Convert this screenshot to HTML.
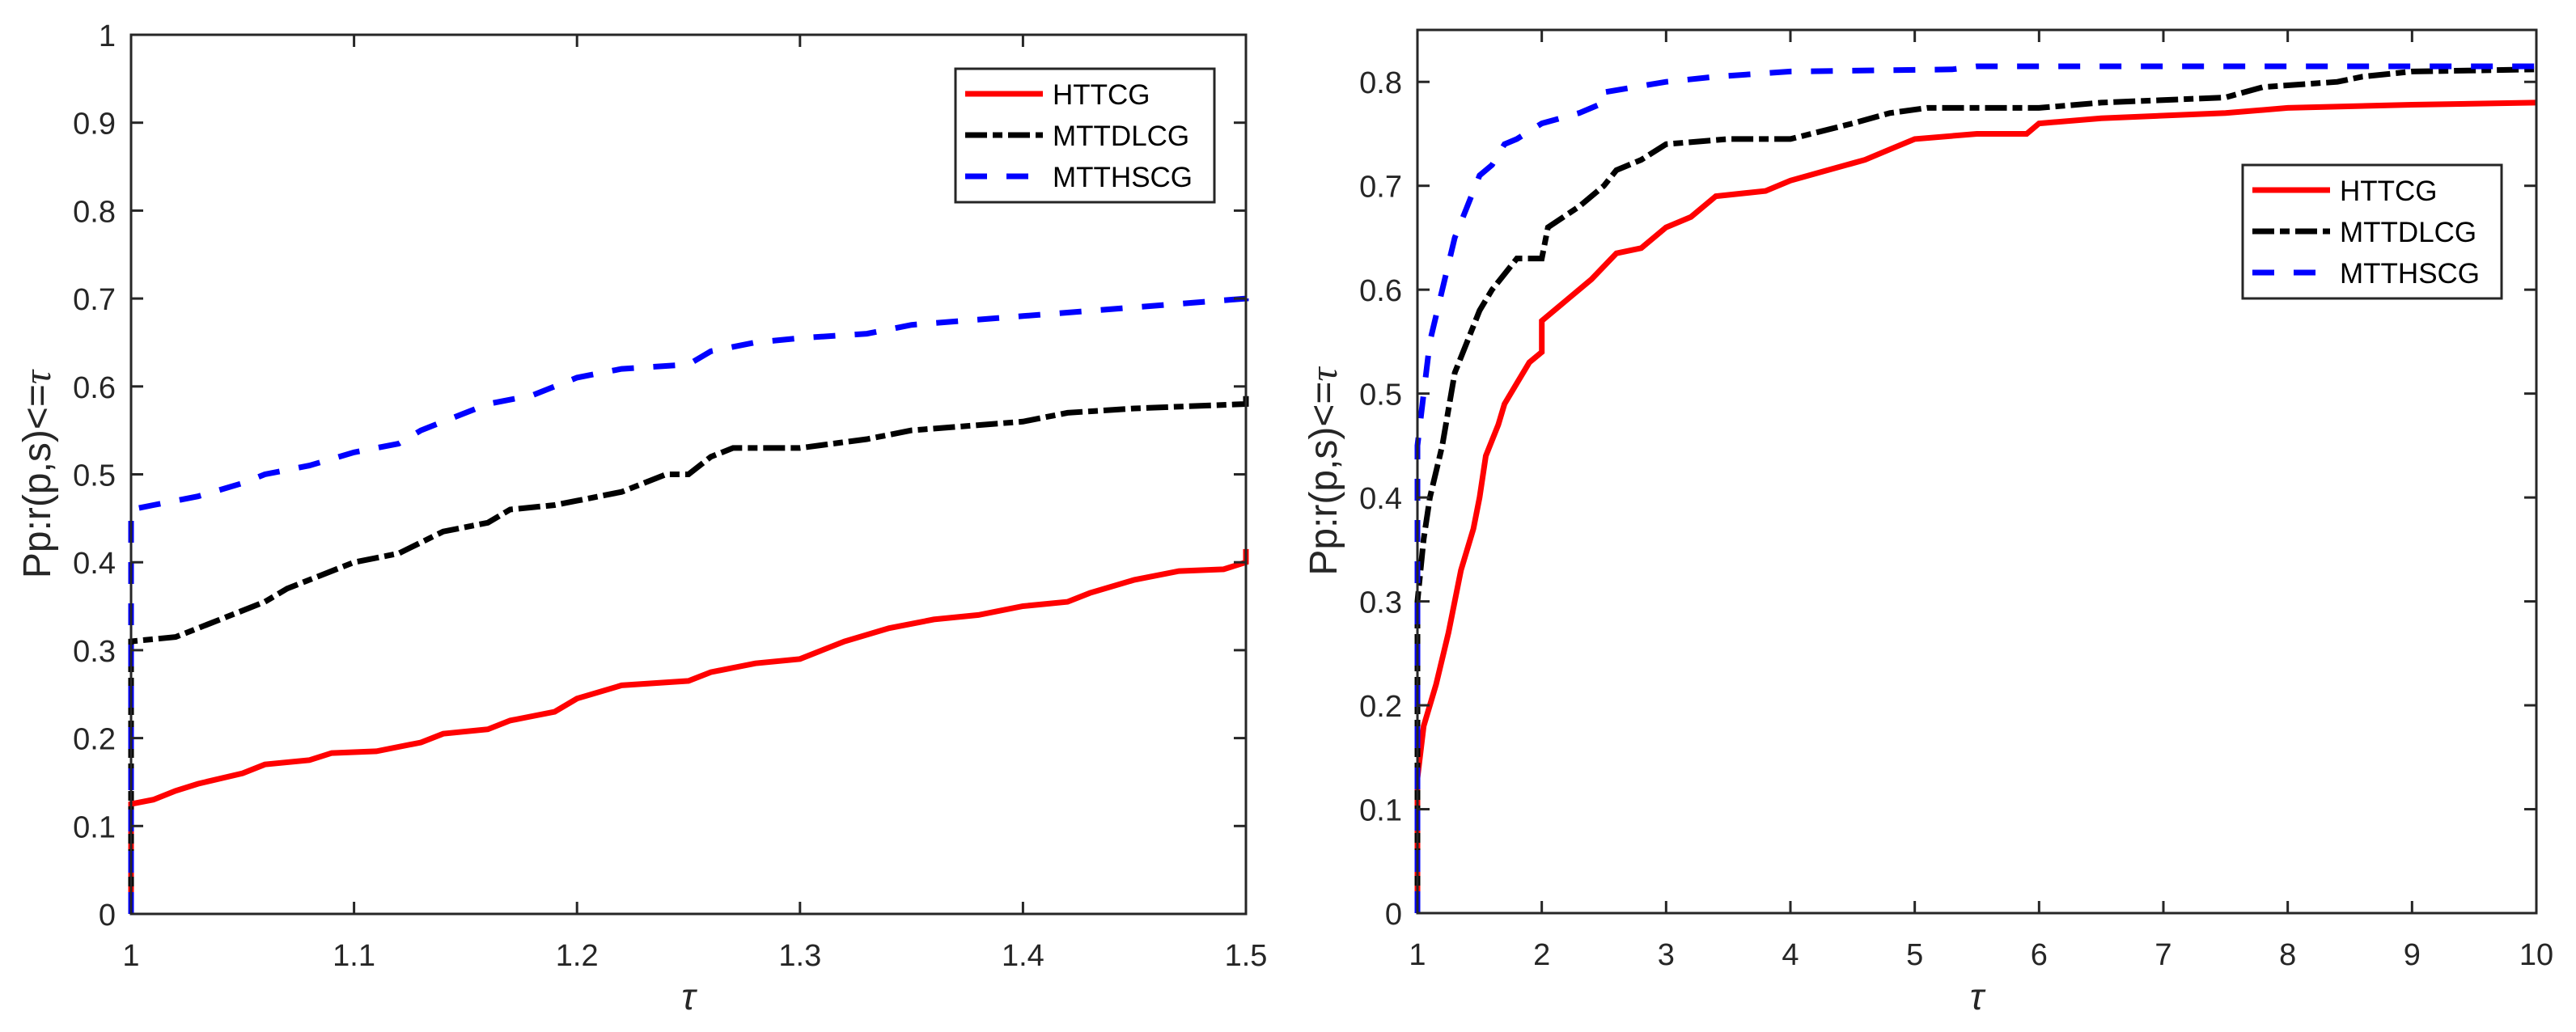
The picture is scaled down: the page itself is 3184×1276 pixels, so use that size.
<!DOCTYPE html>
<html><head><meta charset="utf-8"><style>
html,body{margin:0;padding:0;background:#fff;}
svg{display:block;}
text{font-family:"Liberation Sans",Arial,sans-serif;fill:#262626;}
</style></head><body>
<svg id="fig" width="3184" height="1276" viewBox="0 0 3184 1276" xmlns="http://www.w3.org/2000/svg"></svg>
<script>
// ---- data: left panel ----
const leftRedX=[1,1,1.01,1.02,1.03,1.05,1.06,1.08,1.09,1.11,1.13,1.14,1.16,1.17,1.19,1.2,1.22,1.25,1.26,1.28,1.3,1.32,1.34,1.36,1.38,1.4,1.42,1.43,1.45,1.47,1.49,1.5,1.5];
const leftRedY=[0,0.125,0.13,0.14,0.148,0.16,0.17,0.175,0.183,0.185,0.195,0.205,0.21,0.22,0.23,0.245,0.26,0.265,0.275,0.285,0.29,0.31,0.325,0.335,0.34,0.35,0.355,0.365,0.38,0.39,0.392,0.4,0.415];
const leftBlackX=[1,1,1.02,1.04,1.06,1.07,1.08,1.1,1.12,1.14,1.16,1.17,1.19,1.2,1.22,1.24,1.25,1.26,1.27,1.3,1.33,1.35,1.4,1.42,1.45,1.5,1.5];
const leftBlackY=[0,0.31,0.315,0.335,0.355,0.37,0.38,0.4,0.41,0.435,0.445,0.46,0.465,0.47,0.48,0.5,0.5,0.52,0.53,0.53,0.54,0.55,0.56,0.57,0.575,0.58,0.595];
const leftBlueX=[1,1,1.01,1.03,1.05,1.06,1.08,1.1,1.12,1.13,1.14,1.16,1.18,1.2,1.22,1.25,1.26,1.28,1.3,1.33,1.35,1.4,1.45,1.5,1.5];
const leftBlueY=[0,0.46,0.465,0.475,0.49,0.5,0.51,0.525,0.535,0.55,0.56,0.58,0.59,0.61,0.62,0.625,0.64,0.65,0.655,0.66,0.67,0.68,0.69,0.7,0.71];
const leftXTicks=[1,1.1,1.2,1.3,1.4,1.5];
const leftXTickLabels=["1","1.1","1.2","1.3","1.4","1.5"];
const leftYTicks=[0,0.1,0.2,0.3,0.4,0.5,0.6,0.7,0.8,0.9,1];
const leftYTickLabels=["0","0.1","0.2","0.3","0.4","0.5","0.6","0.7","0.8","0.9","1"];
// ---- data: right panel ----
const rightRedX=[1,1,1.05,1.15,1.25,1.35,1.45,1.5,1.55,1.65,1.7,1.8,1.9,2,2,2.2,2.4,2.6,2.8,3,3.2,3.4,3.8,4,4.3,4.6,4.8,5,5.5,5.9,6,6.5,7.5,8,9,10];
const rightRedY=[0,0.13,0.18,0.22,0.27,0.33,0.37,0.4,0.44,0.47,0.49,0.51,0.53,0.54,0.57,0.59,0.61,0.635,0.64,0.66,0.67,0.69,0.695,0.705,0.715,0.725,0.735,0.745,0.75,0.75,0.76,0.765,0.77,0.775,0.778,0.78];
const rightBlackX=[1,1,1.05,1.1,1.2,1.3,1.4,1.5,1.6,1.7,1.8,2,2.05,2.3,2.5,2.6,2.8,3,3.5,4,4.5,4.8,5.1,6,6.5,7.5,7.8,8.4,8.6,9,10];
const rightBlackY=[0,0.3,0.36,0.4,0.45,0.52,0.55,0.58,0.6,0.615,0.63,0.63,0.66,0.68,0.7,0.715,0.725,0.74,0.745,0.745,0.76,0.77,0.775,0.775,0.78,0.785,0.795,0.8,0.805,0.81,0.812];
const rightBlueX=[1,1,1.05,1.1,1.2,1.3,1.4,1.5,1.6,1.7,1.8,2,2.3,2.5,2.5,3,3.4,4,5.3,5.5,10];
const rightBlueY=[0,0.45,0.5,0.55,0.6,0.65,0.68,0.71,0.72,0.74,0.745,0.76,0.77,0.78,0.79,0.8,0.805,0.81,0.812,0.815,0.815];
const rightXTicks=[1,2,3,4,5,6,7,8,9,10];
const rightXTickLabels=["1","2","3","4","5","6","7","8","9","10"];
const rightYTicks=[0,0.1,0.2,0.3,0.4,0.5,0.6,0.7,0.8];
const rightYTickLabels=["0","0.1","0.2","0.3","0.4","0.5","0.6","0.7","0.8"];
const seriesNames=["HTTCG","MTTDLCG","MTTHSCG"];

const NS="http://www.w3.org/2000/svg";
const svg=document.getElementById('fig');
function mk(tag,attrs,parent){const e=document.createElementNS(NS,tag);for(const k in attrs)e.setAttribute(k,attrs[k]);(parent||svg).appendChild(e);return e;}
const styles=[
 {stroke:'#ff0000',dash:''},
 {stroke:'#000000',dash:'27 7 12 7'},
 {stroke:'#0000ff',dash:'27 24'}
];

function panel(id,box,xmin,xmax,ymin,ymax,xt,xtl,yt,ytl,series,leg){
  const g=mk('g',{});
  
  
  const sx=v=>box.x0+(v-xmin)/(xmax-xmin)*(box.x1-box.x0);
  const sy=v=>box.y1-(v-ymin)/(ymax-ymin)*(box.y1-box.y0);
  const clip=mk('clipPath',{id:id+'-clip'},g);
  mk('rect',{x:box.x0-4,y:box.y0,width:box.x1-box.x0+8,height:box.y1-box.y0+4},clip);
  series.forEach((s,i)=>{
    const pts=s.x.map((v,j)=>sx(v).toFixed(1)+','+sy(s.y[j]).toFixed(1)).join(' ');
    const pl=mk('polyline',{points:pts,fill:'none',stroke:styles[i].stroke,'stroke-width':7,'stroke-dasharray':styles[i].dash,'stroke-linejoin':'miter','clip-path':'url(#'+id+'-clip)'},g);
    
    
  });
  const fr=mk('rect',{x:box.x0,y:box.y0,width:box.x1-box.x0,height:box.y1-box.y0,fill:'none',stroke:'#262626','stroke-width':3},g);
  
  
  xt.forEach((v,i)=>{
    const x=sx(v);
    mk('line',{x1:x,y1:box.y1,x2:x,y2:box.y1-15,stroke:'#262626','stroke-width':3},g);
    mk('line',{x1:x,y1:box.y0,x2:x,y2:box.y0+15,stroke:'#262626','stroke-width':3},g);
    const t=mk('text',{x:x,y:box.y1+64,'font-size':38,'text-anchor':'middle'},g);
    t.textContent=xtl[i];
    
    
  });
  yt.forEach((v,i)=>{
    const y=sy(v);
    mk('line',{x1:box.x0,y1:y,x2:box.x0+15,y2:y,stroke:'#262626','stroke-width':3},g);
    mk('line',{x1:box.x1,y1:y,x2:box.x1-15,y2:y,stroke:'#262626','stroke-width':3},g);
    const t=mk('text',{x:box.x0-19,y:y+14,'font-size':38,'text-anchor':'end'},g);
    t.textContent=ytl[i];
    
    
  });
  const xl=mk('text',{x:(box.x0+box.x1)/2,y:1248,'font-size':46,'font-style':'italic','text-anchor':'middle','font-family':'"Liberation Serif",serif'},g);
  xl.textContent='τ';
  
  
  const cy=(box.y0+box.y1)/2;
  const yl=mk('text',{x:0,y:0,'font-size':48,'text-anchor':'middle',transform:'translate('+(box.x0-100)+','+cy+') rotate(-90)'},g);
  yl.innerHTML='Pp:r(p,s)&lt;=<tspan font-family="Liberation Serif,serif" font-style="italic">τ</tspan>';
  
  
  const lg=mk('g',{},g);
  
  
  mk('rect',{x:leg.x,y:leg.y,width:320,height:165,fill:'#fff',stroke:'#262626','stroke-width':3},lg);
  seriesNames.forEach((n,i)=>{
    const ry=leg.y+31+i*51;
    const e=mk('g',{},lg);
    
    
    mk('line',{x1:leg.x+12,y1:ry,x2:leg.x+108,y2:ry,stroke:styles[i].stroke,'stroke-width':7,'stroke-dasharray':styles[i].dash},e);
    const t=mk('text',{x:leg.x+120,y:ry+13,'font-size':35},e);
    t.setAttribute('style','fill:#000');
    t.textContent=n;
  });
}
panel('left',{x0:162,x1:1540,y0:43,y1:1130},1,1.5,0,1,leftXTicks,leftXTickLabels,leftYTicks,leftYTickLabels,
  [{x:leftRedX,y:leftRedY},{x:leftBlackX,y:leftBlackY},{x:leftBlueX,y:leftBlueY}],{x:1181,y:85});
panel('right',{x0:1752,x1:3135,y0:37,y1:1129},1,10,0,0.85,rightXTicks,rightXTickLabels,rightYTicks,rightYTickLabels,
  [{x:rightRedX,y:rightRedY},{x:rightBlackX,y:rightBlackY},{x:rightBlueX,y:rightBlueY}],{x:2772,y:204});
</script>
</body></html>
